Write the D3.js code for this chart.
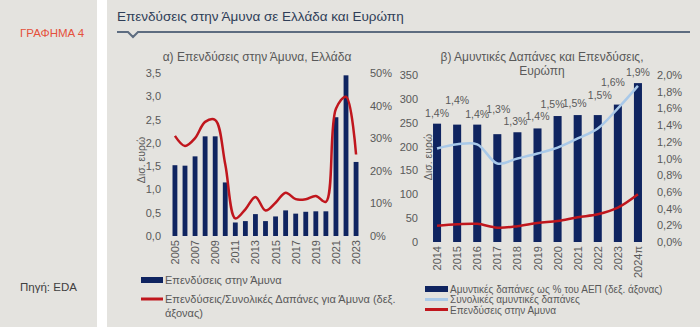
<!DOCTYPE html>
<html><head><meta charset="utf-8">
<script src="https://cdn.jsdelivr.net/npm/d3@7"></script>
<style>
html,body{margin:0;padding:0;background:#fff;}
svg{display:block;font-family:"Liberation Sans",Arial,sans-serif;}
</style></head>
<body><svg id="c" width="700" height="327"></svg>
<script>
// ---------- DATA ----------
const greeceYears = ["2005","2006","2007","2008","2009","2010","2011","2012","2013","2014","2015","2016","2017","2018","2019","2020","2021","2022","2023"];
const greeceInvest = [1.52,1.51,1.71,2.14,2.14,1.15,0.29,0.32,0.47,0.32,0.42,0.55,0.48,0.52,0.53,0.53,2.55,3.45,1.59];
const greeceShare = [0.307,0.276,0.300,0.350,0.356,0.220,0.054,0.082,0.120,0.078,0.102,0.133,0.113,0.113,0.123,0.105,0.390,0.427,0.250];
const greeceLeftTicks = [0,0.5,1,1.5,2,2.5,3,3.5];
const greeceRightTicks = [0,0.1,0.2,0.3,0.4,0.5];

const euYears = ["2014","2015","2016","2017","2018","2019","2020","2021","2022","2023","2024π"];
const euSpending = [248,246,246,226,230,238,264,266,266,288,333];
const euGdpShareLine = [0.0112,0.0117,0.0117,0.0094,0.0100,0.0106,0.0113,0.0124,0.0136,0.0160,0.0187];
const euInvest = [34,37,38,30,33,40,44,52,58,72,100];
const euGdpLabels = ["1,4%","1,4%","1,4%","1,3%","1,3%","1,4%","1,5%","1,5%","1,5%","1,6%","1,9%"];
const euLeftTicks = [0,50,100,150,200,250,300,350];
const euRightTicks = [0,0.002,0.004,0.006,0.008,0.010,0.012,0.014,0.016,0.018,0.020];

// ---------- STYLE ----------
const BG = "#e4e3df", NAVY = "#0f2460", RED = "#c0161d", LBLUE = "#a9c9e9", TXT = "#595959";
const loc = d3.formatLocale({decimal:",", thousands:".", grouping:[3], currency:["","€"]});
const f1 = loc.format(".1f"), f0 = loc.format(".0f"), p0 = loc.format(".0%"), p1 = loc.format(".1%");

const svg = d3.select("#c");
svg.append("rect").attr("x",0).attr("y",0).attr("width",700).attr("height",327).attr("fill",BG);
svg.append("rect").attr("x",97).attr("y",0).attr("width",10).attr("height",327).attr("fill","#ffffff");

svg.append("text").attr("x",20).attr("y",37).attr("fill","#e4513c").attr("font-size",11.5).text("ΓΡΑΦΗΜΑ 4");
svg.append("text").attr("x",20).attr("y",291).attr("fill","#404040").attr("font-size",11.5).text("Πηγή: EDA");
svg.append("text").attr("x",117).attr("y",21).attr("fill","#2f3e58").attr("font-size",13.5).text("Επενδύσεις στην Άμυνα σε Ελλάδα και Ευρώπη");
svg.append("path").attr("d","M117,32 H128 L133,37 L138,32 H690").attr("fill","none").attr("stroke","#5d6c80").attr("stroke-width",2);

function txt(g,x,y,s,anchor,size,col){
  return g.append("text").attr("x",x).attr("y",y).attr("text-anchor",anchor||"start")
    .attr("font-size",size||11).attr("fill",col||TXT).text(s);
}

// ---------- CHART A ----------
{
  const g = svg.append("g");
  const x = d3.scaleBand().domain(greeceYears).range([170,361]).paddingInner(0.52).paddingOuter(0.25);
  const yL = d3.scaleLinear().domain([0,3.5]).range([236,73]);
  const yR = d3.scaleLinear().domain([0,0.5]).range([236,73]);
  txt(g,257,61,"α) Επενδύσεις στην Άμυνα, Ελλάδα","middle",12);
  greeceLeftTicks.forEach(t=>txt(g,161,yL(t)+4,f1(t),"end",11));
  greeceRightTicks.forEach(t=>txt(g,370,yR(t)+4,p0(t),"start",11));
  g.append("text").attr("transform","translate(145,160) rotate(-90)").attr("text-anchor","middle")
    .attr("font-size",10.5).attr("fill",TXT).text("Δισ. ευρώ");
  g.selectAll("rect.b").data(greeceYears).enter().append("rect")
    .attr("x",d=>x(d)).attr("width",x.bandwidth())
    .attr("y",(d,i)=>yL(greeceInvest[i])).attr("height",(d,i)=>yL(0)-yL(greeceInvest[i])).attr("fill",NAVY);
  greeceYears.forEach((d,i)=>{ if(i%2===0){
    g.append("text").attr("transform",`translate(${x(d)+x.bandwidth()/2+4},240) rotate(-90)`)
      .attr("text-anchor","end").attr("font-size",11).attr("fill",TXT).text(d);
  }});
  const line = d3.line().x((d,i)=>x(greeceYears[i])+x.bandwidth()/2).y(d=>yR(d)).curve(d3.curveCatmullRom.alpha(0.5));
  g.append("path").attr("d",line(greeceShare)).attr("fill","none").attr("stroke",RED).attr("stroke-width",2.5);
  // legend
  g.append("rect").attr("x",141).attr("y",277).attr("width",22).attr("height",6).attr("fill",NAVY);
  txt(g,165,284,"Επενδύσεις στην Άμυνα","start",11);
  g.append("line").attr("x1",141).attr("x2",163).attr("y1",299).attr("y2",299).attr("stroke",RED).attr("stroke-width",3);
  txt(g,165,303,"Επενδύσεις/Συνολικές Δαπάνες για Άμυνα (δεξ.","start",11);
  txt(g,165,317,"άξονας)","start",11);
}

// ---------- CHART B ----------
{
  const g = svg.append("g");
  const x = d3.scaleBand().domain(euYears).range([427,648]).paddingInner(0.6).paddingOuter(0.3);
  const yL = d3.scaleLinear().domain([0,350]).range([242,75]);
  const yR = d3.scaleLinear().domain([0,0.02]).range([242,75]);
  txt(g,542,61,"β) Αμυντικές Δαπάνες και Επενδύσεις,","middle",12);
  txt(g,542,75,"Ευρώπη","middle",12);
  euLeftTicks.forEach(t=>txt(g,418,yL(t)+4,f0(t),"end",11));
  euRightTicks.forEach(t=>txt(g,657,yR(t)+4,p1(t),"start",11));
  g.append("text").attr("transform","translate(432,157) rotate(-90)").attr("text-anchor","middle")
    .attr("font-size",10.5).attr("fill",TXT).text("Δισ. ευρώ");
  g.selectAll("rect.b").data(euYears).enter().append("rect")
    .attr("x",d=>x(d)).attr("width",x.bandwidth())
    .attr("y",(d,i)=>yL(euSpending[i])).attr("height",(d,i)=>yL(0)-yL(euSpending[i])).attr("fill",NAVY);
  euYears.forEach(d=>{
    g.append("text").attr("transform",`translate(${x(d)+x.bandwidth()/2+4},246) rotate(-90)`)
      .attr("text-anchor","end").attr("font-size",11).attr("fill",TXT).text(d);
  });
  // data label nudges (relative offsets, px)
  const lift = [0,14,0,14,0,1,1,1,9,12,0];
  const shift = [0,0,0,1,-2,0,-5,-3,2,-5,0];
  euYears.forEach((d,i)=>{
    txt(g,x(d)+x.bandwidth()/2+shift[i],yL(euSpending[i])-7-lift[i],euGdpLabels[i],"middle",10.5);
  });
  const cx = (d,i)=>x(euYears[i])+x.bandwidth()/2;
  const lb = d3.line().x(cx).y(d=>yR(d)).curve(d3.curveCatmullRom.alpha(0.5));
  g.append("path").attr("d",lb(euGdpShareLine)).attr("fill","none").attr("stroke",LBLUE).attr("stroke-width",2.5);
  const lr = d3.line().x(cx).y(d=>yL(d)).curve(d3.curveCatmullRom.alpha(0.5));
  g.append("path").attr("d",lr(euInvest)).attr("fill","none").attr("stroke",RED).attr("stroke-width",2.5);
  // legend
  g.append("rect").attr("x",425).attr("y",286).attr("width",23).attr("height",6).attr("fill",NAVY);
  txt(g,450,292.5,"Αμυντικές δαπάνες ως % του ΑΕΠ (δεξ. άξονας)","start",10);
  g.append("line").attr("x1",425).attr("x2",448).attr("y1",299.5).attr("y2",299.5).attr("stroke",LBLUE).attr("stroke-width",3);
  txt(g,450,303,"Συνολικές αμυντικές δαπάνες","start",10);
  g.append("line").attr("x1",425).attr("x2",448).attr("y1",309.5).attr("y2",309.5).attr("stroke",RED).attr("stroke-width",3);
  txt(g,450,313.5,"Επενδύσεις στην Αμυνα","start",10);
}
</script></body></html>
